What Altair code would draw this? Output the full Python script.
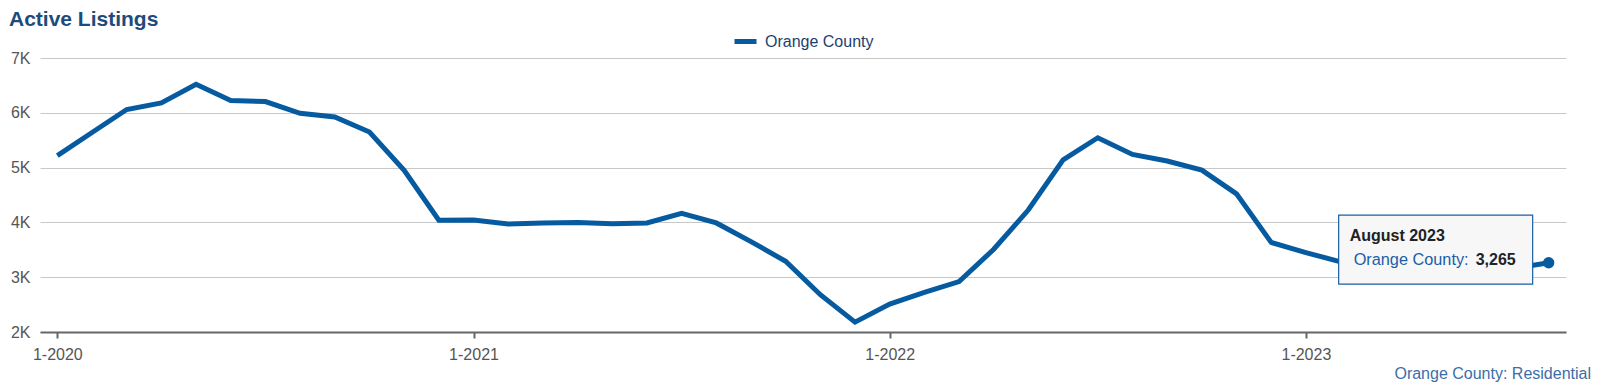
import altair as alt
import pandas as pd

# ---- data ----
years = [2020, 2021, 2022, 2023]
month_names = ["January", "February", "March", "April", "May", "June", "July",
               "August", "September", "October", "November", "December"]
values = [
    5220, 5640, 6060, 6180, 6520, 6225, 6205, 5990, 5925, 5650, 4950, 4040,   # 2020
    4045, 3970, 3990, 4000, 3975, 3990, 4165, 3990, 3650, 3290, 2680, 2180,   # 2021
    2510, 2725, 2920, 3510, 4230, 5140, 5545, 5240, 5120, 4955, 4520, 3635,   # 2022
    3450, 3280, 3220, 3160, 3120, 3140, 3160, 3265,                           # 2023
]
series_name = "Orange County"
x_ticks = ["1-2020", "1-2021", "1-2022", "1-2023"]
y_ticks = [2000, 3000, 4000, 5000, 6000, 7000]
caption = ["Orange County: Residential"]
chart_title = "Active Listings"

months = []
full_names = []
for y in years:
    for m in range(12):
        if len(months) < len(values):
            months.append(f"{m + 1}-{y}")
            full_names.append(f"{month_names[m]} {y}")

df = pd.DataFrame({"month": months, "value": values, "name": full_names,
                   "series": [series_name] * len(values)})
last = df.iloc[[-1]].copy()
last["label"] = series_name + ":"
last["vtext"] = last["value"].map(lambda v: f"{v:,}")

LINE = "#065aa0"
W, H = 1526, 274

xenc = alt.X("month:O", sort=months,
             scale=alt.Scale(type="point", padding=0.5, domain=months),
             axis=alt.Axis(values=x_ticks, labelAngle=0, title=None, grid=False,
                           domainColor="#666666", domainWidth=2,
                           tickColor="#666666", tickWidth=2, tickSize=6,
                           labelFontSize=16, labelColor="#555555", labelPadding=8))
yenc = alt.Y("value:Q",
             scale=alt.Scale(domain=[2000, 7000], nice=False, zero=False),
             axis=alt.Axis(values=y_ticks, title=None, ticks=False, tickSize=0, domain=False,
                           labelExpr="format(datum.value/1000,'d') + 'K'",
                           labelFontSize=16, labelColor="#555555", labelPadding=10,
                           gridColor="#c8c8c8", gridWidth=1))

line = alt.Chart(df).mark_line(strokeWidth=5).encode(
    x=xenc, y=yenc,
    color=alt.Color("series:N", scale=alt.Scale(range=[LINE]),
                    legend=alt.Legend(orient="none", legendX=692, legendY=-30,
                                      title=None, symbolType="stroke",
                                      symbolStrokeWidth=5, symbolSize=484,
                                      labelFontSize=16, labelColor="#1e3f6e",
                                      labelOffset=6, padding=0)),
)

dot = alt.Chart(last).mark_point(filled=True, size=130, opacity=1, color=LINE).encode(
    x=alt.X("month:O", sort=months), y="value:Q")

box = alt.Chart(last).mark_rect(width=194, height=69, xOffset=-113, yOffset=-13,
                                fill="#f7f7f7", stroke="#1a5ea6", strokeWidth=1.2).encode(
    x=alt.X("month:O", sort=months), y="value:Q")

t1 = alt.Chart(last).mark_text(align="left", baseline="alphabetic", dx=-199, dy=-22,
                               fontSize=16, fontWeight="bold", color="#222222").encode(
    x=alt.X("month:O", sort=months), y="value:Q", text="name:N")
t2 = alt.Chart(last).mark_text(align="left", baseline="alphabetic", dx=-195, dy=2,
                               fontSize=16.3, color="#1a5ea6").encode(
    x=alt.X("month:O", sort=months), y="value:Q", text="label:N")
t3 = alt.Chart(last).mark_text(align="left", baseline="alphabetic", dx=-73, dy=2,
                               fontSize=16, fontWeight="bold", color="#222222").encode(
    x=alt.X("month:O", sort=months), y="value:Q", text="vtext:N")

cap = alt.Chart(pd.DataFrame({"t": caption})).mark_text(
    align="right", baseline="alphabetic", fontSize=16, color="#3b6ea8").encode(
    x=alt.value(1551), y=alt.value(321), text="t:N")

chart = alt.layer(line, dot, box, t1, t2, t3, cap).properties(
    width=W, height=H,
    title=alt.Title(chart_title, anchor="start", frame="group", dx=-31, dy=6,
                    fontSize=21, fontWeight="bold", color="#1d4b7c"),
    autosize=alt.AutoSizeParams(type="none"),
    padding={"left": 32, "top": 50, "right": 26, "bottom": 50},
).configure(font="Liberation Sans").configure_view(stroke=None)

chart.save("out.html", embed_options={"renderer": "svg", "actions": False})
